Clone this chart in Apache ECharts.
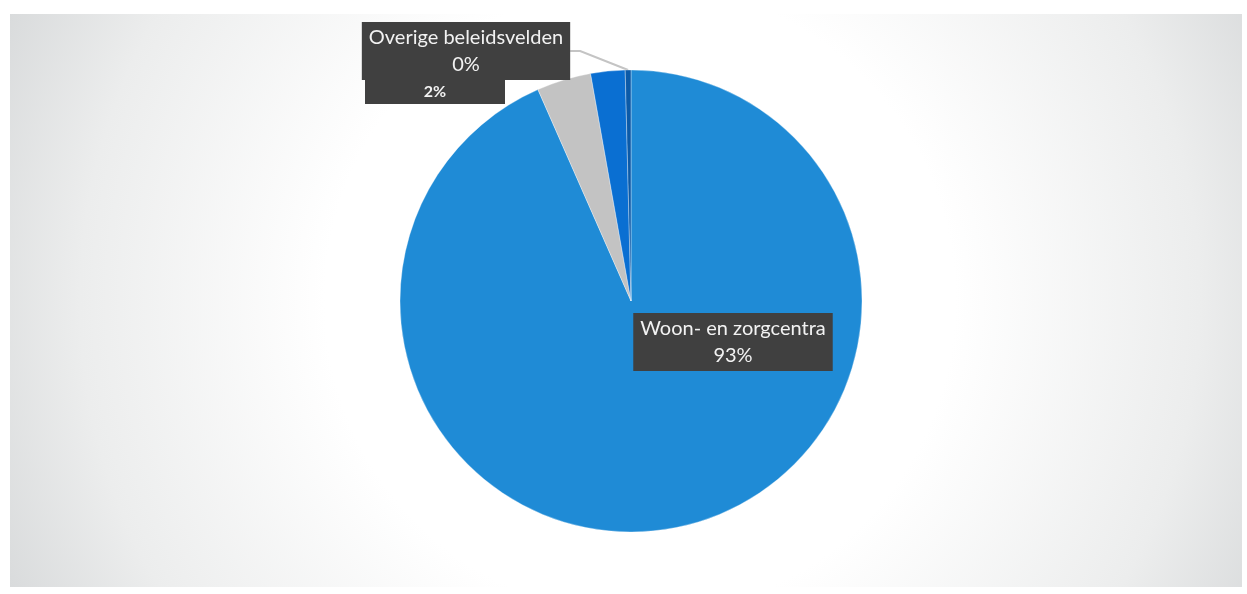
<!DOCTYPE html>
<html>
<head>
<meta charset="utf-8">
<title>Verdeling per beleidsveld</title>
<script src="https://cdn.jsdelivr.net/npm/echarts@6/dist/echarts.min.js"></script>
<style>
  html, body { margin: 0; padding: 0; background: #ffffff; }
  #chart { width: 1247px; height: 594px; }
</style>
</head>
<body>
<div id="chart"></div>
<script>
// Share per beleidsveld (percent), drawn clockwise from 12 o'clock
const categories = ['Woon- en zorgcentra', 'Categorie 2', 'Categorie 3', 'Overige beleidsvelden'];
const values = [93.4, 3.8, 2.4, 0.4];
const sliceColors = ['#1f8bd6', '#c3c3c3', '#0a6fd2', '#0b5aa8'];
// which slices carry a label, and whether the name is part of it
const showLabel = [true, false, true, true];
const showName = [true, false, false, true];
// label anchor points (pixels) for each labelled slice
const labelSpots = { 0: [733, 342], 2: [435, 92], 3: [466, 51] };

const chart = echarts.init(document.getElementById('chart'), null, { renderer: 'canvas' });

const data = categories.map((name, i) => ({
  name: name,
  value: values[i],
  itemStyle: { color: sliceColors[i] },
  label: {
    show: showLabel[i],
    width: i === 2 ? 128 : undefined,
    fontSize: i === 2 ? 16 : 20,
    fontWeight: i === 2 ? 'bold' : 'normal',
    lineHeight: i === 2 ? 22 : 27,
    padding: i === 2 ? [1, 6] : [2, 7]
  },
  labelLine: {
    show: i === 3,
    lineStyle: { color: '#c4c4c4', width: 2 }
  }
}));

chart.setOption({
  backgroundColor: '#ffffff',
  textStyle: { fontFamily: 'Lato' },
  graphic: [{
    type: 'rect',
    z: -10,
    silent: true,
    shape: { x: 10, y: 14, width: 1232, height: 573 },
    style: {
      fill: {
        type: 'radial',
        x: 640, y: 300, r: 700,
        global: true,
        colorStops: [
          { offset: 0, color: '#ffffff' },
          { offset: 0.45, color: '#ffffff' },
          { offset: 0.8, color: '#eceded' },
          { offset: 1, color: '#d8dadb' }
        ]
      }
    }
  }],
  series: [{
    type: 'pie',
    center: [631, 301],
    radius: 231,
    startAngle: 90,
    clockwise: true,
    avoidLabelOverlap: false,
    percentPrecision: 2,
    itemStyle: { borderColor: 'rgba(255,255,255,0.55)', borderWidth: 0.6 },
    label: {
      position: 'outside',
      color: '#f2f2f2',
      backgroundColor: '#404040',
      fontFamily: 'Lato',
      align: 'center',
      formatter: function (p) {
        const pct = Math.round(p.percent) + '%';
        return showName[p.dataIndex] ? p.name + '\n' + pct : pct;
      }
    },
    labelLine: { length: 10, length2: 10 },
    labelLayout: function (params) {
      const spot = labelSpots[params.dataIndex];
      if (!spot) return {};
      return { x: spot[0], y: spot[1], align: 'center', verticalAlign: 'middle' };
    },
    emphasis: { disabled: true },
    data: data
  }]
});
</script>
</body>
</html>
